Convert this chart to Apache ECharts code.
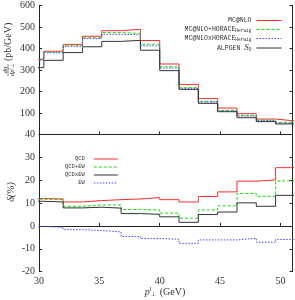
<!DOCTYPE html>
<html><head><meta charset="utf-8">
<script src="https://cdn.jsdelivr.net/npm/echarts@6/dist/echarts.min.js"></script>
<style>html,body{margin:0;padding:0;background:#fff}#c{width:295px;height:300px}</style>
</head><body><div id="c"></div>
<script>
// bin edges (GeV), 1.6 GeV bins
var edges = [28.8, 30.4, 32.0, 33.6, 35.2, 36.8, 38.4, 40.0, 41.6, 43.2, 44.8, 46.4, 48.0, 49.6, 51.2];
// top panel: dsigma/dpT (pb/GeV)
var mcnlo      = [350, 387, 419, 457, 483, 489, 437, 328, 233, 167, 123, 97, 72, 63];
var mcnloPlus  = [350, 383, 415, 450, 474, 470, 420, 315, 218, 154, 112, 89, 67, 57];
var mcnloTimes = [345, 380, 410, 446, 466, 464, 412, 309, 213, 151, 109, 86, 64, 53];
var alpgen     = [311, 345, 381, 408, 433, 438, 392, 297, 210, 145, 106, 78, 60, 49];
// bottom panel: delta (%)
var qcd      = [12.0, 11.8, 10.5, 11.1, 11.5, 11.8, 12.4, 11.5, 10.5, 12.9, 14.9, 19.6, 20.1, 25.5];
var qcdPlus  = [11.7, 11.5, 8.6, 9.2, 9.2, 7.2, 7.0, 5.6, 3.4, 7.0, 8.8, 14.2, 13.0, 19.7];
var qcdTimes = [10.8, 10.5, 7.9, 8.2, 7.8, 5.4, 5.1, 4.0, 1.6, 5.0, 6.1, 10.1, 8.6, 13.4];
var ew       = [-0.2, -0.6, -1.6, -2.0, -2.6, -4.6, -5.5, -5.8, -7.6, -6.1, -6.1, -5.4, -7.1, -5.9];

var topNames = ['MC@NLO', 'MC@NLO+HORACE', 'MC@NLOxHORACE', 'ALPGEN'];
var botNames = ['QCD', 'QCD+EW', 'QCDxEW', 'EW'];

var RED = '#ff2a2a', GREEN = '#11dd11', BLUE = '#4646ff', BLACK = '#333';
var DASH = [3, 2], DOT = [1.5, 1.5];
var topStyles = [[RED, 'solid'], [GREEN, DASH], [BLUE, DOT], [BLACK, 'solid']];
var botStyles = [[RED, 'solid'], [GREEN, DASH], [BLACK, 'solid'], [BLUE, DOT]];

function hist(vals) {
  return edges.map(function (e, i) { return [e, vals[Math.min(i, vals.length - 1)]]; });
}
var serif = 'Liberation Serif';
var mono = 'Liberation Mono';

function ser(name, vals, st, gi) {
  return {
    name: name, type: 'line', step: 'end', data: hist(vals),
    xAxisIndex: gi, yAxisIndex: gi * 2, symbol: 'none', clip: true,
    lineStyle: { color: st[0], width: 1, type: st[1] }, itemStyle: { color: st[0] },
    emphasis: { disabled: true }, animation: false
  };
}
function legData(names, styles) {
  return names.map(function (n, i) {
    return { name: n, itemStyle: { opacity: 0 }, lineStyle: { color: styles[i][0], width: 1, type: styles[i][1] } };
  });
}
var axLine = { show: true, lineStyle: { color: '#222', width: 1 } };
var tickIn = { show: true, inside: true, length: 3, lineStyle: { color: '#222' } };
var lbl = { fontFamily: serif, fontSize: 10, color: '#333' };
var TC = '#333';

var chart = echarts.init(document.getElementById('c'), null, { renderer: 'canvas' });
chart.setOption({
  animation: false,
  grid: [
    { left: 39, right: 2.5, top: 5.5, height: 129 },
    { left: 39, right: 2.5, top: 134.5, height: 137.2 }
  ],
  xAxis: [
    { type: 'value', gridIndex: 0, min: 30, max: 51, interval: 5, axisLine: axLine, axisTick: tickIn,
      axisLabel: { show: false }, splitLine: { show: false } },
    { type: 'value', gridIndex: 1, min: 30, max: 51, interval: 5, axisLine: axLine, axisTick: tickIn,
      axisLabel: Object.assign({ margin: 5, showMaxLabel: false }, lbl), splitLine: { show: false } }
  ],
  yAxis: [
    { type: 'value', gridIndex: 0, min: 0, max: 600, interval: 100, axisLine: axLine, axisTick: tickIn,
      axisLabel: Object.assign({ margin: 4, showMinLabel: false }, lbl), splitLine: { show: false } },
    { type: 'value', gridIndex: 0, position: 'right', min: 0, max: 600, interval: 100, axisLine: axLine, axisTick: tickIn,
      axisLabel: { show: false }, splitLine: { show: false } },
    { type: 'value', gridIndex: 1, min: -20, max: 40, interval: 10, axisLine: axLine, axisTick: tickIn,
      axisLabel: Object.assign({ margin: 4 }, lbl), splitLine: { show: false } },
    { type: 'value', gridIndex: 1, position: 'right', min: -20, max: 40, interval: 10, axisLine: axLine, axisTick: tickIn,
      axisLabel: { show: false }, splitLine: { show: false } }
  ],
  legend: [
    { data: legData(topNames, topStyles), orient: 'vertical', align: 'right', right: 13, top: 16.5,
      itemWidth: 25, itemHeight: 8, itemGap: 1, selectedMode: false, padding: 0,
      formatter: function (n) {
        if (n === 'MC@NLO+HORACE' || n === 'MC@NLOxHORACE') return n + '{s|Herwig}';
        if (n === 'ALPGEN') return 'ALPGEN {i|S}{s0|0}';
        return n;
      },
      textStyle: { fontFamily: mono, fontSize: 6.5, lineHeight: 8, color: TC,
        rich: { s: { fontFamily: mono, fontSize: 4.5, lineHeight: 8, verticalAlign: 'bottom', padding: [3, 0, 0, 0], color: TC },
                i: { fontFamily: serif, fontStyle: 'italic', fontSize: 9, lineHeight: 8, color: TC },
                s0: { fontFamily: serif, fontSize: 5.5, lineHeight: 8, color: TC, padding: [3, 0, 0, 0] } } } },
    { data: legData(botNames, botStyles), orient: 'vertical', align: 'right', left: 65, top: 156,
      itemWidth: 24, itemHeight: 6, itemGap: 2, selectedMode: false, padding: 0,
      textStyle: { fontFamily: mono, fontSize: 5.5, lineHeight: 6, color: TC, padding: [0, 4, 0, 0] } }
  ],
  series: [
    ser(topNames[0], mcnlo, topStyles[0], 0),
    ser(topNames[1], mcnloPlus, topStyles[1], 0),
    ser(topNames[2], mcnloTimes, topStyles[2], 0),
    ser(topNames[3], alpgen, topStyles[3], 0),
    ser(botNames[0], qcd, botStyles[0], 1),
    ser(botNames[1], qcdPlus, botStyles[1], 1),
    ser(botNames[2], qcdTimes, botStyles[2], 1),
    ser(botNames[3], ew, botStyles[3], 1)
  ],
  graphic: [
    { type: 'group', x: 8, y: 70, rotation: Math.PI / 2, children: [
      { type: 'text', x: 0, y: -3.2, style: { text: 'dσ', align: 'center', verticalAlign: 'middle',
          font: 'italic 7px "Liberation Serif"', fill: TC } },
      { type: 'line', shape: { x1: -6, y1: 0, x2: 6, y2: 0 }, style: { stroke: TC, lineWidth: 0.6 } },
      { type: 'text', x: 0, y: 3.8, style: { text: '{i|dp}{b|l}{c|⊥}', align: 'center', verticalAlign: 'middle',
          rich: { i: { fontFamily: serif, fontStyle: 'italic', fontSize: 7, fill: TC },
                  b: { fontFamily: serif, fontSize: 4.5, fill: TC, padding: [0, 0, 4, 0] },
                  c: { fontFamily: serif, fontSize: 4.5, fill: TC, padding: [3, 0, 0, 0] } } } },
      { type: 'text', x: 9, y: 0, style: { text: '(pb/GeV)', align: 'left', verticalAlign: 'middle',
          font: '10px "Liberation Serif"', fill: TC } }
    ] },
    { type: 'text', x: 11, y: 192, rotation: Math.PI / 2,
      style: { text: 'δ(%)', align: 'center', verticalAlign: 'middle', font: 'italic 10px "Liberation Serif"', fill: TC } },
    { type: 'text', x: 165, y: 292,
      style: { text: '{i|p}{b|l}{c|⊥} {a|(GeV)}', align: 'center', verticalAlign: 'middle',
        rich: { a: { fontFamily: serif, fontSize: 10, fill: TC },
                i: { fontFamily: serif, fontStyle: 'italic', fontSize: 10, fill: TC },
                b: { fontFamily: serif, fontSize: 6, fill: TC, padding: [0, 0, 6, 0] },
                c: { fontFamily: serif, fontSize: 6, fill: TC, padding: [4, 0, 0, 0] } } } }
  ]
});
</script></body></html>
